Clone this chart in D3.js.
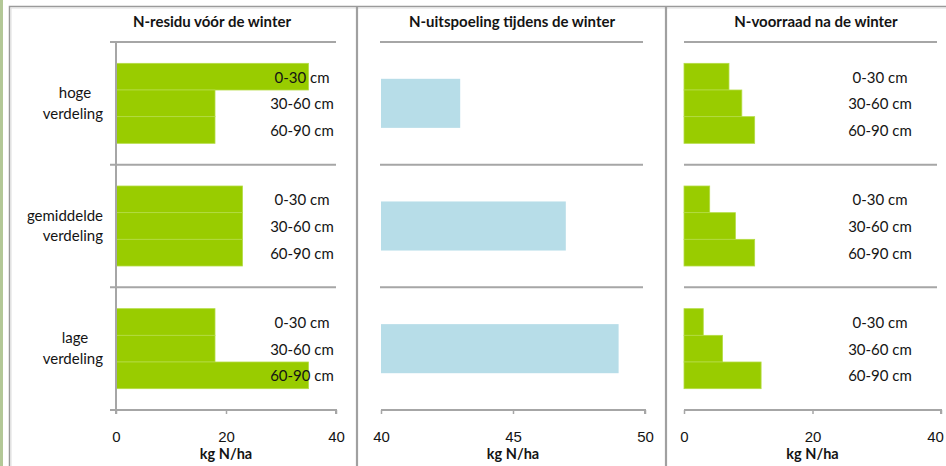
<!DOCTYPE html>
<html>
<head>
<meta charset="utf-8">
<script src="https://cdn.jsdelivr.net/npm/d3@7"></script>
<style>
  body { margin: 0; background: #fff; }
  svg { display: block; font-family: Lato, "Open Sans", sans-serif; }
  .tick text { font-size: 15px; fill: #141414; }
</style>
</head>
<body>
<svg id="chart" width="946" height="466"></svg>
<script>
// distribution types (rows) and soil layers
const groups = ['hoge\nverdeling', 'gemiddelde\nverdeling', 'lage\nverdeling'];
const layers = ['0-30 cm', '30-60 cm', '60-90 cm'];

// N-residu before winter, per group, per layer (kg N/ha)
const residu = [
  [35, 18, 18],
  [23, 23, 23],
  [18, 18, 35]
];
// N leaching during winter (kg N/ha)
const uitspoeling = [43, 47, 49];
// N stock after winter, per group, per layer (kg N/ha)
const voorraad = [
  [7, 9, 11],
  [4, 8, 11],
  [3, 6, 12]
];

const titles = ['N-residu vóór de winter', 'N-uitspoeling tijdens de winter', 'N-voorraad na de winter'];
const ticks1 = [0, 20, 40];
const ticks2 = [40, 45, 50];
const ticks3 = [0, 20, 40];
const axisTitle = 'kg N/ha';

const green = '#99cc00';
const blue = '#b7dde8';
const lineCol = '#a6a6a6';
const textCol = '#141414';

const svg = d3.select('#chart');

// frame
svg.append('rect').attr('x', 0).attr('y', 0).attr('width', 3).attr('height', 466).attr('fill', '#b3c897');
svg.append('rect').attr('x', 9.5).attr('y', 6.5).attr('width', 945).attr('height', 470)
  .attr('fill', 'none').attr('stroke', '#9a9a9a').attr('stroke-width', 1.5);
svg.append('rect').attr('x', 11).attr('y', 8).attr('width', 945).attr('height', 470)
  .attr('fill', 'none').attr('stroke', '#dedede').attr('stroke-width', 1);
[357, 666].forEach(x => {
  svg.append('line').attr('x1', x).attr('x2', x).attr('y1', 7).attr('y2', 466)
    .attr('stroke', '#a0a0a0').attr('stroke-width', 2.2);
});

// shared vertical scales
const plotTop = 42, plotBottom = 410;
const yGroup = d3.scaleBand().domain(d3.range(groups.length)).range([plotTop, plotBottom]);
const yLayer = d3.scaleBand().domain(layers).range([0, yGroup.bandwidth()]).paddingOuter(0.8).paddingInner(0);

const x1 = d3.scaleLinear().domain([0, 40]).range([116, 336]);
const x2 = d3.scaleLinear().domain([40, 50]).range([381, 645]);
const x3 = d3.scaleLinear().domain([0, 40]).range([684, 941]);

function separators(x0, x1e) {
  svg.append('g').selectAll('line').data(d3.range(groups.length)).join('line')
    .attr('x1', x0).attr('x2', x1e)
    .attr('y1', d => yGroup(d)).attr('y2', d => yGroup(d))
    .attr('stroke', lineCol).attr('stroke-width', 2);
}

function bottomAxis(x, vals, x0) {
  const g = svg.append('g').attr('transform', `translate(0,${plotBottom})`)
    .call(d3.axisBottom(x).tickValues(vals).tickSize(4).tickPadding(17).tickFormat(d3.format('d')));
  g.select('.domain').attr('stroke', lineCol).attr('stroke-width', 2)
    .attr('d', `M${x0},0H${x.range()[1]}V4`);
  g.selectAll('.tick line').attr('stroke', lineCol).attr('stroke-width', 1.5);
  g.selectAll('.tick text').attr('fill', textCol);
  // keep the last label of the right panel inside the window
  g.selectAll('.tick text').filter(d => x(d) > 930).attr('dx', -6);
  const mid = (x.range()[0] + x.range()[1]) / 2;
  svg.append('text').attr('x', mid).attr('y', 459).attr('text-anchor', 'middle')
    .attr('font-weight', 'bold').attr('font-size', 14.5).attr('fill', textCol).text(axisTitle);
}

function title(t, cx) {
  svg.append('text').attr('x', cx).attr('y', 27).attr('text-anchor', 'middle')
    .attr('font-weight', 'bold').attr('font-size', 15).attr('fill', textCol).text(t);
}

function layerBars(data, x, labelX) {
  data.forEach((row, gi) => {
    const g = svg.append('g').attr('transform', `translate(0,${yGroup(gi)})`);
    g.selectAll('rect').data(row).join('rect')
      .attr('x', x(0)).attr('y', (d, i) => yLayer(layers[i]))
      .attr('width', d => x(d) - x(0)).attr('height', yLayer.bandwidth())
      .attr('fill', green).attr('stroke', '#b4dc45').attr('stroke-width', 0.8);
    g.selectAll('text').data(layers).join('text')
      .attr('x', labelX).attr('y', d => yLayer(d) + yLayer.bandwidth() / 2 + 6)
      .attr('text-anchor', 'middle').attr('font-size', 15).attr('fill', textCol).text(d => d);
  });
}

// panel 1
title(titles[0], 212);
separators(110, 336);
layerBars(residu, x1, 302);
svg.append('line').attr('x1', x1(0)).attr('x2', x1(0)).attr('y1', plotTop).attr('y2', plotBottom + 4)
  .attr('stroke', lineCol).attr('stroke-width', 2);
bottomAxis(x1, ticks1, 110);
groups.forEach((name, gi) => {
  const t = svg.append('text').attr('text-anchor', 'middle')
    .attr('font-size', 15).attr('fill', textCol);
  const lines = name.split('\n');
  lines.forEach((l, k) => {
    t.append('tspan').attr('x', 75)
      .attr('y', yGroup(gi) + yGroup.bandwidth() / 2 + (k - (lines.length - 1) / 2) * 20.5 + 5)
      .text(l);
  });
  // wide labels stay clear of the axis
  t.selectAll('tspan').each(function () {
    const w = this.getComputedTextLength();
    d3.select(this).attr('x', Math.min(75, 103 - w / 2));
  });
});

// panel 2
title(titles[1], 512);
separators(380, 643);
const barH = yGroup.bandwidth() * 0.4;
svg.append('g').selectAll('rect').data(uitspoeling).join('rect')
  .attr('x', x2(40)).attr('y', (d, i) => yGroup(i) + (yGroup.bandwidth() - barH) / 2)
  .attr('width', d => x2(d) - x2(40)).attr('height', barH)
  .attr('fill', blue);
bottomAxis(x2, ticks2, 381);

// panel 3
title(titles[2], 816);
separators(684, 937);
layerBars(voorraad, x3, 880);
bottomAxis(x3, ticks3, 684);
</script>
</body>
</html>
